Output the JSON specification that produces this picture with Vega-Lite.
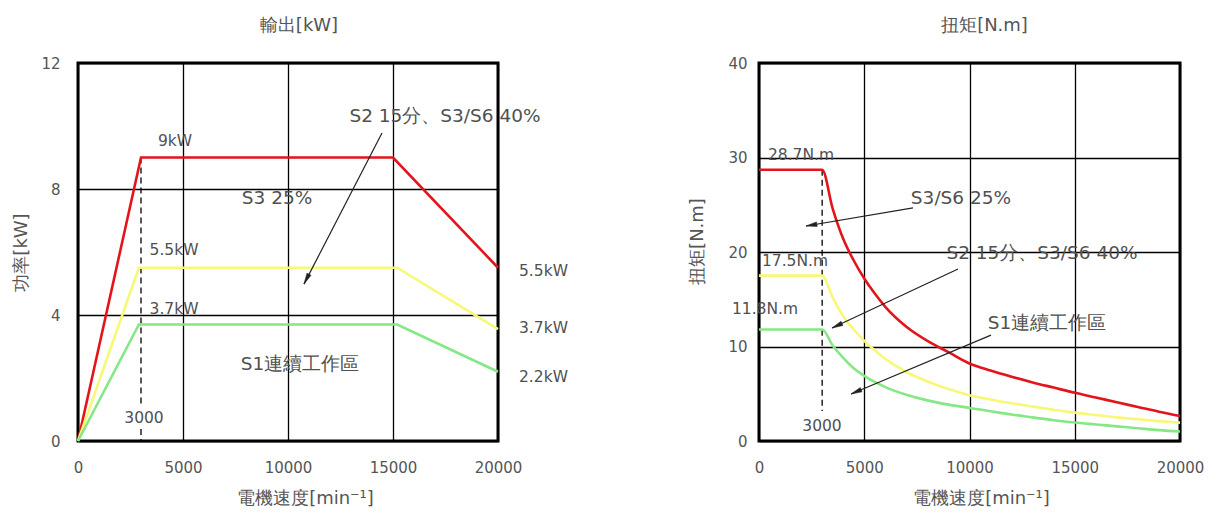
{
  "$schema": "https://vega.github.io/schema/vega-lite/v6.json",
  "bounds": "flush",
  "spacing": 261,
  "padding": {"left": 11, "top": 15, "right": 5, "bottom": 5},
  "background": "white",
  "config": {
    "view": {"stroke": "black", "strokeWidth": 3},
    "axis": {"domain": false, "ticks": false, "grid": true, "gridColor": "black", "gridWidth": 1.3, "gridOpacity": 1, "labelFont": "DejaVu Sans", "labelFontSize": 15, "labelColor": "#555555", "titleFont": "DejaVu Sans", "titleFontSize": 18, "titleColor": "#555555", "titleFontWeight": "normal", "labelFlush": false, "format": "d"},
    "title": {"font": "DejaVu Sans", "fontSize": 18, "color": "#555555", "fontWeight": "normal"},
    "text": {"font": "DejaVu Sans", "color": "#505050"}
  },
  "datasets": {
    "power": [
      {"series": "S3", "x": 0, "y": 0}, {"series": "S3", "x": 3000, "y": 9}, {"series": "S3", "x": 15000, "y": 9}, {"series": "S3", "x": 20000, "y": 5.5},
      {"series": "S2", "x": 0, "y": 0}, {"series": "S2", "x": 2900, "y": 5.5}, {"series": "S2", "x": 15200, "y": 5.5}, {"series": "S2", "x": 20000, "y": 3.55},
      {"series": "S1", "x": 0, "y": 0}, {"series": "S1", "x": 2900, "y": 3.7}, {"series": "S1", "x": 15200, "y": 3.7}, {"series": "S1", "x": 20000, "y": 2.2}
    ],
    "torque": [
      {"series": "S3", "x": 0, "y": 28.7}, {"series": "S3", "x": 3000, "y": 28.7}, {"series": "S3", "x": 3500, "y": 24.6}, {"series": "S3", "x": 4000, "y": 21.4}, {"series": "S3", "x": 4500, "y": 19.1}, {"series": "S3", "x": 5000, "y": 17.2}, {"series": "S3", "x": 5500, "y": 15.6}, {"series": "S3", "x": 6000, "y": 14.2}, {"series": "S3", "x": 7000, "y": 12.1}, {"series": "S3", "x": 8000, "y": 10.6}, {"series": "S3", "x": 9000, "y": 9.4}, {"series": "S3", "x": 10000, "y": 8.2}, {"series": "S3", "x": 11000, "y": 7.45}, {"series": "S3", "x": 12000, "y": 6.8}, {"series": "S3", "x": 13000, "y": 6.2}, {"series": "S3", "x": 14000, "y": 5.65}, {"series": "S3", "x": 15000, "y": 5.1}, {"series": "S3", "x": 16000, "y": 4.6}, {"series": "S3", "x": 17000, "y": 4.1}, {"series": "S3", "x": 18000, "y": 3.6}, {"series": "S3", "x": 19000, "y": 3.1}, {"series": "S3", "x": 20000, "y": 2.65},
      {"series": "S2", "x": 0, "y": 17.5}, {"series": "S2", "x": 3000, "y": 17.5}, {"series": "S2", "x": 3500, "y": 15.2}, {"series": "S2", "x": 4000, "y": 13.2}, {"series": "S2", "x": 4500, "y": 11.8}, {"series": "S2", "x": 5000, "y": 10.6}, {"series": "S2", "x": 5500, "y": 9.6}, {"series": "S2", "x": 6000, "y": 8.7}, {"series": "S2", "x": 7000, "y": 7.3}, {"series": "S2", "x": 8000, "y": 6.3}, {"series": "S2", "x": 9000, "y": 5.5}, {"series": "S2", "x": 10000, "y": 4.85}, {"series": "S2", "x": 11000, "y": 4.4}, {"series": "S2", "x": 12000, "y": 4.0}, {"series": "S2", "x": 13000, "y": 3.65}, {"series": "S2", "x": 14000, "y": 3.3}, {"series": "S2", "x": 15000, "y": 3.0}, {"series": "S2", "x": 16000, "y": 2.75}, {"series": "S2", "x": 17000, "y": 2.5}, {"series": "S2", "x": 18000, "y": 2.3}, {"series": "S2", "x": 19000, "y": 2.1}, {"series": "S2", "x": 20000, "y": 1.94},
      {"series": "S1", "x": 0, "y": 11.8}, {"series": "S1", "x": 3000, "y": 11.8}, {"series": "S1", "x": 3500, "y": 10.1}, {"series": "S1", "x": 4000, "y": 8.8}, {"series": "S1", "x": 4500, "y": 7.7}, {"series": "S1", "x": 5000, "y": 6.9}, {"series": "S1", "x": 5500, "y": 6.25}, {"series": "S1", "x": 6000, "y": 5.7}, {"series": "S1", "x": 7000, "y": 4.9}, {"series": "S1", "x": 8000, "y": 4.3}, {"series": "S1", "x": 9000, "y": 3.85}, {"series": "S1", "x": 10000, "y": 3.5}, {"series": "S1", "x": 11000, "y": 3.15}, {"series": "S1", "x": 12000, "y": 2.8}, {"series": "S1", "x": 13000, "y": 2.5}, {"series": "S1", "x": 14000, "y": 2.2}, {"series": "S1", "x": 15000, "y": 1.95}, {"series": "S1", "x": 16000, "y": 1.75}, {"series": "S1", "x": 17000, "y": 1.55}, {"series": "S1", "x": 18000, "y": 1.35}, {"series": "S1", "x": 19000, "y": 1.15}, {"series": "S1", "x": 20000, "y": 1.0}
    ],
    "pSmall": [{"x": 4619, "y": 9.52, "label": "9kW"}, {"x": 4571, "y": 6.06, "label": "5.5kW"}, {"x": 4571, "y": 4.19, "label": "3.7kW"}, {"x": 3143, "y": 0.73, "label": "3000"}],
    "pBig": [{"x": 17476, "y": 10.32, "label": "S2 15分、S3/S6 40%"}, {"x": 9476, "y": 7.71, "label": "S3 25%"}, {"x": 10571, "y": 2.44, "label": "S1連續工作區"}],
    "pRight": [{"x": 20000, "y": 5.4, "label": "5.5kW"}, {"x": 20000, "y": 3.59, "label": "3.7kW"}, {"x": 20000, "y": 2.03, "label": "2.2kW"}],
    "pArrows": [{"x": 14476, "y": 9.78, "x2": 10762, "y2": 4.98}],
    "pHeads": [{"x": 10882, "y": 5.14, "angle": 207.3}],
    "pDash": [{"x": 3000, "y": 9, "y2": 1.17}, {"x": 3000, "y": 0.38, "y2": 0}],
    "tSmall": [{"x": 1995, "y": 30.26, "label": "28.7N.m"}, {"x": 1710, "y": 19.05, "label": "17.5N.m"}, {"x": 285, "y": 13.97, "label": "11.8N.m"}, {"x": 2993, "y": 1.59, "label": "3000"}],
    "tBig": [{"x": 9596, "y": 25.7, "label": "S3/S6 25%"}, {"x": 13444, "y": 19.9, "label": "S2 15分、S3/S6 40%"}, {"x": 13682, "y": 12.49, "label": "S1連續工作區"}],
    "tArrows": [{"x": 7316, "y": 24.66, "x2": 2233, "y2": 22.75}, {"x": 9454, "y": 18.2, "x2": 3468, "y2": 11.96}, {"x": 11021, "y": 11.2, "x2": 4371, "y2": 4.97}],
    "tHeads": [{"x": 2490, "y": 22.85, "angle": 260.5}, {"x": 3705, "y": 12.2, "angle": 244.9}, {"x": 4612, "y": 5.2, "angle": 247.1}],
    "tDash": [{"x": 3000, "y": 28.7, "y2": 3.17}]
  },
  "hconcat": [
    {
      "width": 420,
      "height": 378,
      "title": {"text": "輸出[kW]", "frame": "group", "offset": 21, "dx": 11},
      "encoding": {
        "x": {"field": "x", "type": "quantitative", "scale": {"domain": [0, 20000], "nice": false}, "axis": {"values": [0, 5000, 10000, 15000, 20000], "title": "電機速度[min⁻¹]", "labelPadding": 19, "titlePadding": 14, "titleX": 227}},
        "y": {"field": "y", "type": "quantitative", "scale": {"domain": [0, 12], "nice": false}, "axis": {"values": [0, 4, 8, 12], "title": "功率[kW]", "labelPadding": 18, "titlePadding": 10}}
      },
      "layer": [
        {"data": {"name": "pDash"}, "mark": {"type": "rule", "color": "black", "strokeWidth": 1.3, "strokeDash": [6, 4]}, "encoding": {"y2": {"field": "y2"}}},
        {"data": {"name": "power"}, "mark": {"type": "line", "strokeWidth": 2.6}, "encoding": {"color": {"field": "series", "type": "nominal", "scale": {"domain": ["S3", "S2", "S1"], "range": ["#e3141c", "#f8f878", "#84e884"]}, "legend": null}}},
        {"data": {"name": "pArrows"}, "mark": {"type": "rule", "color": "#222222", "strokeWidth": 1.2}, "encoding": {"x2": {"field": "x2"}, "y2": {"field": "y2"}}},
        {"data": {"name": "pHeads"}, "mark": {"type": "point", "shape": "M0,-1L0.42,1L-0.42,1Z", "filled": true, "fill": "#222222", "stroke": "#222222", "strokeWidth": 0.5, "opacity": 1, "size": 120}, "encoding": {"angle": {"field": "angle", "type": "quantitative", "scale": {"domain": [0, 360], "range": [0, 360]}}}},
        {"data": {"name": "pSmall"}, "mark": {"type": "text", "fontSize": 15.5, "align": "center", "baseline": "middle"}, "encoding": {"text": {"field": "label"}}},
        {"data": {"name": "pBig"}, "mark": {"type": "text", "fontSize": 18.5, "align": "center", "baseline": "middle"}, "encoding": {"text": {"field": "label"}}},
        {"data": {"name": "pRight"}, "mark": {"type": "text", "fontSize": 15.5, "align": "left", "baseline": "middle", "dx": 21}, "encoding": {"text": {"field": "label"}}}
      ]
    },
    {
      "width": 421,
      "height": 378,
      "title": {"text": "扭矩[N.m]", "frame": "group", "offset": 21, "dx": 15},
      "encoding": {
        "x": {"field": "x", "type": "quantitative", "scale": {"domain": [0, 20000], "nice": false}, "axis": {"values": [0, 5000, 10000, 15000, 20000], "title": "電機速度[min⁻¹]", "labelPadding": 19, "titlePadding": 14, "titleX": 222}},
        "y": {"field": "y", "type": "quantitative", "scale": {"domain": [0, 40], "nice": false}, "axis": {"values": [0, 10, 20, 30, 40], "title": "扭矩[N.m]", "labelPadding": 12, "titlePadding": 21, "titleY": 178}}
      },
      "layer": [
        {"data": {"name": "tDash"}, "mark": {"type": "rule", "color": "black", "strokeWidth": 1.3, "strokeDash": [6, 4]}, "encoding": {"y2": {"field": "y2"}}},
        {"data": {"name": "torque"}, "mark": {"type": "line", "strokeWidth": 2.6, "interpolate": "monotone"}, "encoding": {"color": {"field": "series", "type": "nominal", "scale": {"domain": ["S3", "S2", "S1"], "range": ["#e3141c", "#f8f878", "#84e884"]}, "legend": null}}},
        {"data": {"name": "tArrows"}, "mark": {"type": "rule", "color": "#222222", "strokeWidth": 1.2}, "encoding": {"x2": {"field": "x2"}, "y2": {"field": "y2"}}},
        {"data": {"name": "tHeads"}, "mark": {"type": "point", "shape": "M0,-1L0.42,1L-0.42,1Z", "filled": true, "fill": "#222222", "stroke": "#222222", "strokeWidth": 0.5, "opacity": 1, "size": 120}, "encoding": {"angle": {"field": "angle", "type": "quantitative", "scale": {"domain": [0, 360], "range": [0, 360]}}}},
        {"data": {"name": "tSmall"}, "mark": {"type": "text", "fontSize": 15.5, "align": "center", "baseline": "middle"}, "encoding": {"text": {"field": "label"}}},
        {"data": {"name": "tBig"}, "mark": {"type": "text", "fontSize": 18.5, "align": "center", "baseline": "middle"}, "encoding": {"text": {"field": "label"}}}
      ]
    }
  ]
}
